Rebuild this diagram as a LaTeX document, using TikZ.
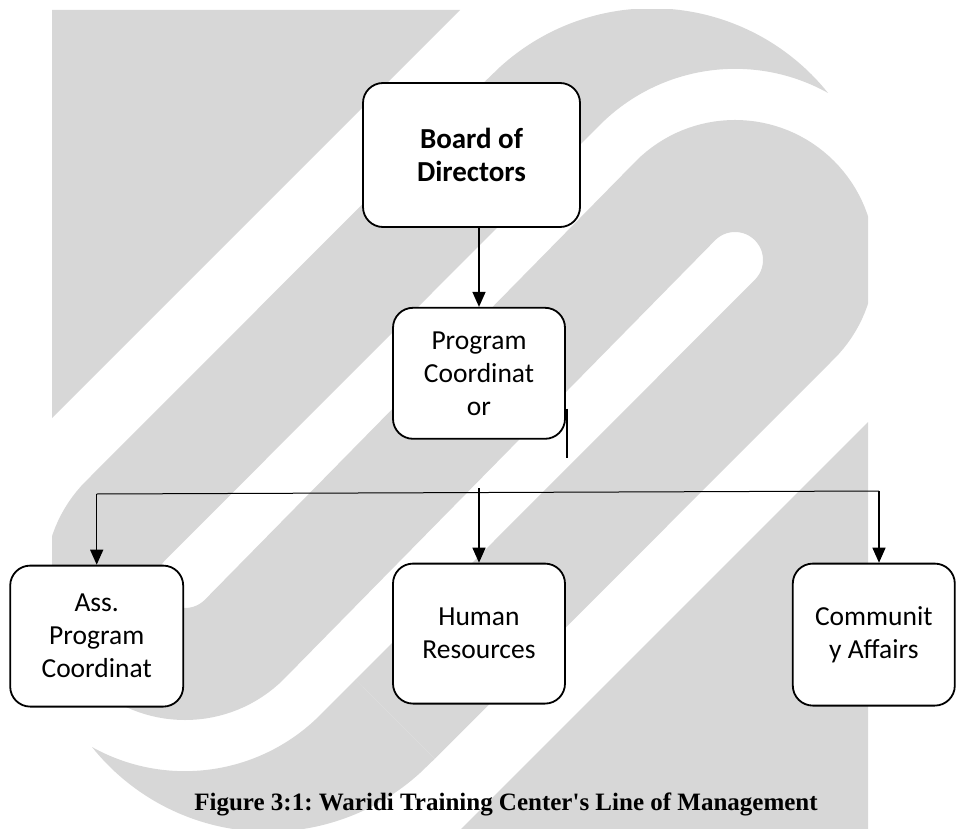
\documentclass[tikz,border=0pt]{standalone}
\usepackage{fontspec}
\setmainfont{Carlito}
\newfontfamily\capfont{Liberation Serif}
\usepackage{tikz}
\usepackage{xcolor}
\usetikzlibrary{calc,positioning,arrows.meta,shapes}
\definecolor{wmgray}{RGB}{215,215,215}
\frenchspacing
\tikzset{
>={Triangle[length=15pt,width=13pt]},
  wmark/.style={fill=wmgray, draw=none},
  wmband/.style={draw=wmgray, line width=112pt},
}

\begin{document}
\begin{tikzpicture}[x=1pt,y=-1pt]
      \tikzset{
          every node/.style={inner sep=0pt},
          unit/.style={rectangle, rounded corners=20pt, draw=black, fill=white, line width=1.8pt, align=center, font=\fontsize{27.5}{33}\selectfont},
          head/.style={unit, font=\bfseries\fontsize{29}{33}\selectfont},
          caption/.style={font=\capfont\bfseries\fontsize{25}{30}\selectfont},
          myarrow/.style={draw, ->, line width=1.4pt},
          myline/.style={draw, line width=1pt},
      }
      \useasboundingbox (0,0) rectangle (956,829);

      % watermark behind the chart
      \begin{scope}
        \clip (52,10) rectangle (868,830);
        \foreach \a in {0,180}{
          \begin{scope}[rotate around={\a:(460,420)}]
            \path[wmark] (52,10) -- (460,10) -- (52,418) -- cycle;
            \path[wmark] (485.3,81.1) -- (500,67) arc[start angle=227.7, end angle=321.35, radius=225.6]
                 arc[start angle=299.1, end angle=225, radius=191] -- (564.5,160.3) -- cycle;
          \end{scope}
        }
        \path[wmband] (524.9,120.7) -- (125.6,520.6) arc[start angle=225, end angle=45, radius=84]
             -- (675.6,200.6) arc[start angle=225, end angle=405, radius=84] -- (395.1,719.3);
      \end{scope}

      \node[head, minimum width=217pt, minimum height=144pt] (Board) at (471.5,155) {Board of\\Directors};
      \node[unit, minimum width=172pt, minimum height=131pt, below=79pt of Board, xshift=7.5pt] (ProgCoord) {Program\\Coordinat\\or};
      \node[unit, minimum width=172pt, minimum height=140pt, below=123pt of ProgCoord] (HumanRes) {Human\\Resources};
      \node[unit, minimum width=173pt, minimum height=141pt, left=208pt of HumanRes, yshift=-2.5pt] (AssProg) {Ass.\\Program\\Coordinat};
      \node[unit, minimum width=162pt, minimum height=142pt, right=226pt of HumanRes, yshift=-1pt] (CommAff) {Communit\\y Affairs};
      \node[caption, anchor=base] (Caption) at (506,810) {Figure 3:1: Waridi Training Center's Line of Management};

      \coordinate (AuxNode01) at ([shift={(1,-31)}]ProgCoord.south east);
      \coordinate (AuxNode02) at (AuxNode01 |- 0,458);
      \coordinate (AuxNode03) at (AssProg.north |- 0,494);
      \coordinate (AuxNode04) at (879,491);
      \coordinate (AuxNode05) at (HumanRes.north |- 0,488);

      \path[myarrow] (ProgCoord.north |- Board.south) -- (ProgCoord.north);
      \path[myline, line width=1.4pt] (AuxNode01) -- (AuxNode02);
      \path[myline] (AuxNode03) -- (AuxNode04);
      \path[myarrow] (AuxNode03) -- (AssProg.north);
      \path[myarrow] (AuxNode05) -- (HumanRes.north);
      \path[myarrow] (AuxNode04) -- (AuxNode04 |- CommAff.north);

\end{tikzpicture}
\end{document}
